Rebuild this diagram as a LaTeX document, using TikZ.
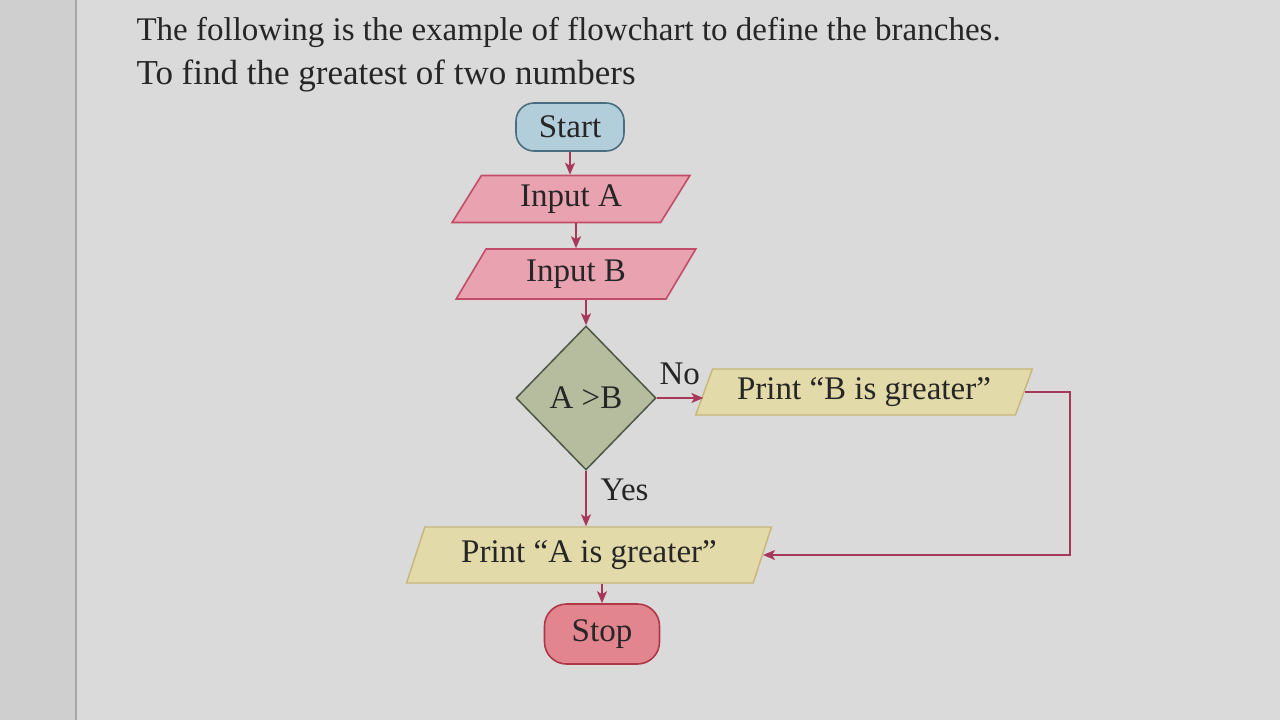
\documentclass[tikz,border=0pt]{standalone}
\usepackage{fontspec}
\setmainfont{Liberation Serif}
\usetikzlibrary{shapes.geometric,arrows.meta}
\definecolor{pagebg}{HTML}{DADADA}
\definecolor{stripbg}{HTML}{CFCFCF}
\definecolor{startfill}{HTML}{B2CEDB}
\definecolor{startdraw}{HTML}{4A6E80}
\definecolor{infill}{HTML}{E9A2AF}
\definecolor{indraw}{HTML}{C24D68}
\definecolor{decfill}{HTML}{B6BD9F}
\definecolor{decdraw}{HTML}{4C5746}
\definecolor{prfill}{HTML}{E2DAA8}
\definecolor{prdraw}{HTML}{C6B67A}
\definecolor{stopfill}{HTML}{E2858E}
\definecolor{stopdraw}{HTML}{AE3848}
\definecolor{arrowc}{HTML}{A8385A}
\tikzset{
  txt/.style={font=\fontsize{33}{37}\selectfont, text=black!85},
  terminal/.style={txt, rectangle, rounded corners=18pt, line width=1.6pt, inner sep=0pt},
  inbox/.style={txt, trapezium, trapezium left angle=60, trapezium right angle=120, trapezium stretches=true, fill=infill, draw=indraw, line width=1.6pt, inner sep=0pt},
  prbox/.style={txt, trapezium, trapezium left angle=64, trapezium right angle=116, trapezium stretches=true, fill=prfill, draw=prdraw, line width=1.4pt, inner sep=0pt},
  decbox/.style={txt, diamond, fill=decfill, draw=decdraw, line width=1.5pt, inner sep=0pt},
  flow/.style={draw=arrowc, line width=1.6pt, -{Stealth[length=12pt,width=10pt,inset=3pt]}},
  lbl/.style={font=\fontsize{33}{37}\selectfont, text=black!85}
}
\begin{document}
\begin{tikzpicture}[x=1pt,y=-1pt]
\useasboundingbox (0,0) rectangle (1280,720);
\fill[pagebg] (0,0) rectangle (1280,720);
\fill[stripbg] (0,0) rectangle (75,720);
\draw[black!35, line width=1.2pt] (76,0) -- (76,720);

\node[anchor=west, font=\fontsize{33}{37}\selectfont, text=black!85] (title) at (133,32) {The following is the example of flowchart to define the branches.};
\node[anchor=west, font=\fontsize{35}{39}\selectfont, text=black!85] (subtitle) at (133,76) {To find the greatest of two numbers};

\node[terminal, fill=startfill, draw=startdraw, minimum width=108pt, minimum height=48pt] (start) at (570,127) {Start};
\node[inbox, minimum width=238pt, minimum height=47pt] (ina) at (571,199) {Input A};
\node[inbox, minimum width=240pt, minimum height=50pt] (inb) at (576,274) {Input B};
\node[decbox, minimum width=140pt, minimum height=144pt] (dec) at (586,398) {A >B};
\node[prbox, minimum width=337pt, minimum height=46pt] (prb) at (864,392) {Print “B is greater”};
\node[prbox, minimum width=366pt, minimum height=56pt] (pra) at (589,555) {Print “A is greater”};
\node[terminal, fill=stopfill, draw=stopdraw, minimum width=115pt, minimum height=60pt, rounded corners=22pt] (stop) at (602,634) {Stop};

\draw[flow] (start.south) -- (start.south |- ina.north);
\draw[flow] (ina.south -| 576,0) -- (inb.north -| 576,0);
\draw[flow] (inb.south -| dec.north) -- (dec.north);
\draw[flow] (dec.south) -- (dec.south |- pra.north);
\draw[flow] (pra.south -| stop.north) -- (stop.north);
\draw[flow] (dec.east) -- (dec.east -| prb.west);
\draw[flow] (prb.east) -- (1070,392) |- (pra.east);

\node[lbl, anchor=south west] (nolbl) at (656,388) {No};
\node[lbl, anchor=west] (yeslbl) at (597,490) {Yes};
\end{tikzpicture}
\end{document}
